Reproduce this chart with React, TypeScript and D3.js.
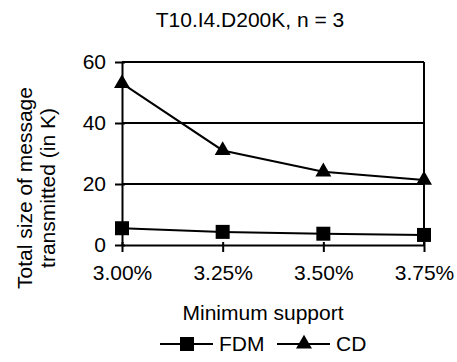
import React, { useEffect, useRef } from 'react';
import * as d3 from 'd3';

const title = 'T10.I4.D200K, n = 3';
const categories = ['3.00%', '3.25%', '3.50%', '3.75%'];
const fdm = [5.5, 4.3, 3.7, 3.3];
const cd = [53, 31, 24, 21.3];
const yTicks = [0, 20, 40, 60];

const W = 457;
const H = 362;
const font = 'Liberation Sans, Arial, sans-serif';
const fs = 21;

const App = () => {
  const svgRef = useRef<SVGSVGElement>(null);

  useEffect(() => {
    const svg = d3.select(svgRef.current);
    svg.selectAll('*').remove();

    const left = 122, right = 424, top = 62, bottom = 245;
    const x = d3.scalePoint<string>().domain(categories).range([left, right]);
    const y = d3.scaleLinear().domain([0, 60]).range([bottom, top]);

    // grid lines + frame
    svg.append('g')
      .selectAll('line')
      .data(yTicks.filter(t => t > 0))
      .enter()
      .append('line')
      .attr('x1', left).attr('x2', right)
      .attr('y1', d => y(d)).attr('y2', d => y(d))
      .attr('stroke', '#000').attr('stroke-width', 2);

    svg.append('line')
      .attr('x1', right).attr('x2', right)
      .attr('y1', top).attr('y2', bottom)
      .attr('stroke', '#000').attr('stroke-width', 2);

    const yAxis = svg.append('g')
      .attr('transform', `translate(${left},0)`)
      .call(d3.axisLeft(y).tickValues(yTicks).tickSize(7).tickPadding(9).tickSizeOuter(0));
    const xAxis = svg.append('g')
      .attr('transform', `translate(0,${bottom})`)
      .call(d3.axisBottom(x).tickSize(7).tickPadding(13).tickSizeOuter(0));

    [yAxis, xAxis].forEach(a => {
      a.select('.domain').attr('stroke', '#000').attr('stroke-width', 2);
      a.selectAll('.tick line').attr('stroke', '#000').attr('stroke-width', 2);
      a.selectAll('.tick text')
        .attr('fill', '#000')
        .style('font-family', font)
        .style('font-size', `${fs}px`);
    });
    xAxis.selectAll('.tick line').attr('y1', -3);
    yAxis.selectAll('.tick line').attr('x1', 3);

    const line = d3.line<number>()
      .x((_, i) => x(categories[i]) as number)
      .y(d => y(d));

    const square = d3.symbol(d3.symbolSquare, 196);
    const triangle = d3.symbol(d3.symbolTriangle, 110);

    const series = [
      { name: 'FDM', values: fdm, sym: square },
      { name: 'CD', values: cd, sym: triangle },
    ];

    series.forEach(s => {
      svg.append('path')
        .datum(s.values)
        .attr('d', line)
        .attr('fill', 'none')
        .attr('stroke', '#000')
        .attr('stroke-width', 2);
      svg.append('g')
        .selectAll('path')
        .data(s.values)
        .enter()
        .append('path')
        .attr('transform', (d, i) => `translate(${x(categories[i])},${y(d)})`)
        .attr('d', s.sym())
        .attr('fill', '#000');
    });

    const text = (t: string, tx: number, ty: number, size: number, anchor = 'middle') =>
      svg.append('text')
        .attr('x', tx).attr('y', ty)
        .attr('text-anchor', anchor)
        .style('font-family', font)
        .style('font-size', `${size}px`)
        .attr('fill', '#000')
        .text(t);

    text(title, 250, 27, fs);
    text('Minimum support', 263, 320, fs);

    svg.append('g')
      .attr('transform', 'translate(0,188) rotate(-90)')
      .call(g => {
        g.append('text').attr('x', 0).attr('y', 32).attr('text-anchor', 'middle')
          .style('font-family', font).style('font-size', `${fs}px`).text('Total size of message');
        g.append('text').attr('x', 0).attr('y', 55).attr('text-anchor', 'middle')
          .style('font-family', font).style('font-size', `${fs}px`).text('transmitted (in K)');
      });

    // legend
    const legendItems = [
      { name: 'FDM', x0: 160, sym: square },
      { name: 'CD', x0: 277, sym: triangle },
    ];
    legendItems.forEach(l => {
      svg.append('line')
        .attr('x1', l.x0).attr('x2', l.x0 + 53)
        .attr('y1', 344).attr('y2', 344)
        .attr('stroke', '#000').attr('stroke-width', 2);
      svg.append('path')
        .attr('transform', `translate(${l.x0 + 27},344)`)
        .attr('d', l.sym())
        .attr('fill', '#000');
      text(l.name, l.x0 + 59, 351, fs, 'start');
    });
  }, []);

  return (
    <svg ref={svgRef} width={W} height={H}
      style={{ position: 'absolute', left: 0, top: 0, background: '#fff' }} />
  );
};

export default App;
